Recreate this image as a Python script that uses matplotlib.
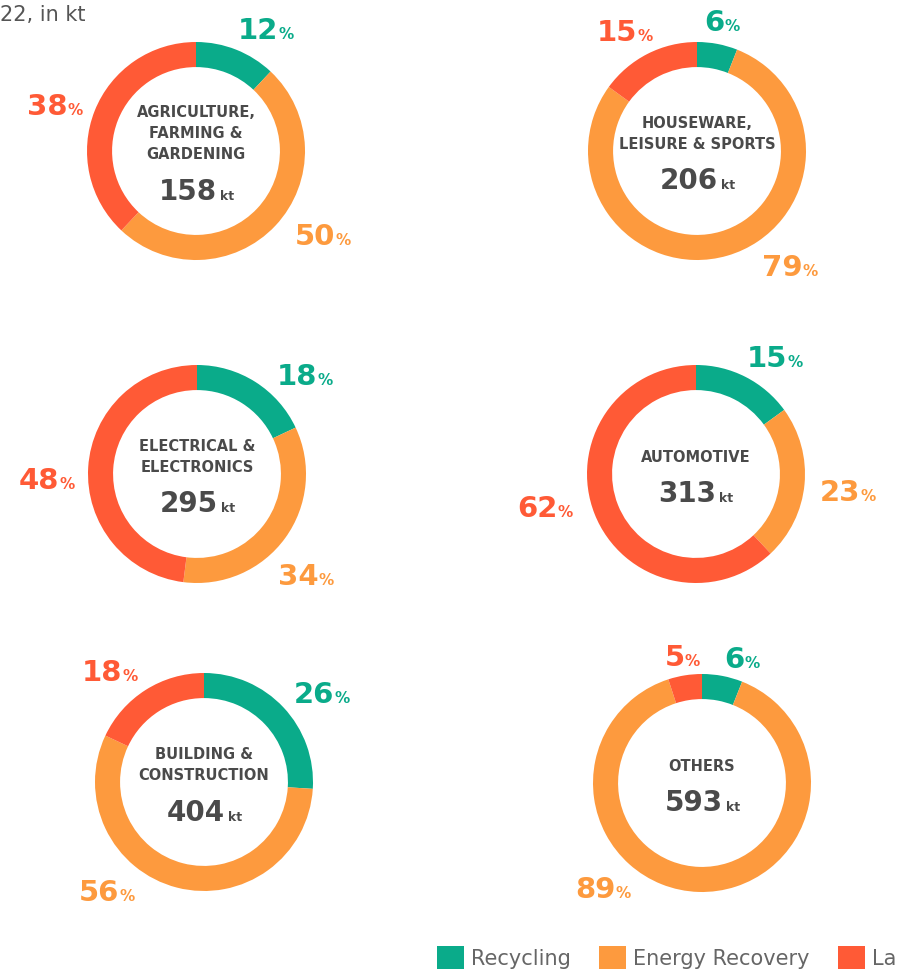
import matplotlib
matplotlib.use("Agg")
import matplotlib.pyplot as plt
from matplotlib.patches import Patch

plt.rcParams['font.family'] = ['DejaVu Sans']

# end-of-life split per sector (%), recycling / energy recovery / landfill
sectors = [["AGRICULTURE,", "FARMING &", "GARDENING"],
           ["HOUSEWARE,", "LEISURE & SPORTS"],
           ["ELECTRICAL &", "ELECTRONICS"],
           ["AUTOMOTIVE"],
           ["BUILDING &", "CONSTRUCTION"],
           ["OTHERS"]]
totals_kt = [158, 206, 295, 313, 404, 593]
recycling = [12, 6, 18, 15, 26, 6]
energy_recovery = [50, 79, 34, 23, 56, 89]
landfill = [38, 15, 48, 62, 18, 5]
series_names = ["Recycling", "Energy Recovery", "Landfill"]

colors = ["#0aab8a", "#fd9a3e", "#ff5a36"]
text_dark = "#4a4a4a"

W, H = 897, 971
R_PX = 109  # outer radius of each ring in pixels
HALF = 1.7  # axes half-width in radius units

# ring centres (px from top-left)
centers = [(196, 151), (697, 151), (197, 474), (696, 474), (204, 782), (702, 783)]
# percentage label centres relative to ring centre (px, y down), per series
label_offsets = [
    [(70, -123), (127, 83), (-141, -47)],
    [(25, -131), (93, 114), (-72, -121)],
    [(108, -100), (109, 100), (-150, 4)],
    [(79, -118), (152, 16), (-151, 32)],
    [(118, -90), (-97, 108), (-94, -112)],
    [(40, -126), (-99, 104), (-20, -128)],
]

fig = plt.figure(figsize=(W / 100, H / 100), dpi=100)
renderer = fig.canvas.get_renderer()


def two_part(ax, x, y, big, small, color, big_size, small_size, gap_px=0):
    t1 = ax.text(x, y, big, fontsize=big_size, fontweight='bold', color=color,
                 ha='left', va='baseline', clip_on=False)
    t2 = ax.text(x, y, small, fontsize=small_size, fontweight='bold', color=color,
                 ha='left', va='baseline', clip_on=False)
    w1 = t1.get_window_extent(renderer).width
    w2 = t2.get_window_extent(renderer).width
    start = x - (w1 + gap_px + w2) / 2 / R_PX
    t1.set_x(start)
    t2.set_x(start + (w1 + gap_px) / R_PX)


for i, (cx, cy) in enumerate(centers):
    half_px = HALF * R_PX
    ax = fig.add_axes([(cx - half_px) / W, (H - cy - half_px) / H,
                       2 * half_px / W, 2 * half_px / H])
    vals = [recycling[i], energy_recovery[i], landfill[i]]
    ax.pie(vals, colors=colors, startangle=90, counterclock=False, radius=1,
           wedgeprops=dict(width=0.23, edgecolor='none'))
    ax.set_xlim(-HALF, HALF)
    ax.set_ylim(-HALF, HALF)
    ax.axis('off')

    # percentage labels
    for j, v in enumerate(vals):
        dx, dy = label_offsets[i][j]
        two_part(ax, dx / R_PX, -(dy + 11) / R_PX, f"{v}", "%",
                 colors[j], 21, 11, gap_px=0)

    # sector name and total in the middle
    lines = sectors[i]
    n = len(lines)
    top = -(21 * (n - 1) + 34) / 2
    for k, line in enumerate(lines):
        ax.text(0, -(top + 21 * k) / R_PX, line, fontsize=10.5, fontweight='bold',
                color=text_dark, ha='center', va='center')
    num_y = top + 21 * (n - 1) + 34
    two_part(ax, 0, -(num_y + 11) / R_PX, f"{totals_kt[i]}", "kt",
             text_dark, 20, 9, gap_px=3)

fig.text(0, 1 - 15 / H, "22, in kt", fontsize=15, color="#555555",
         ha='left', va='center')

handles = [Patch(facecolor=c, edgecolor='none') for c in colors]
fig.legend(handles, series_names, loc='lower left',
           bbox_to_anchor=(437 / W, 2 / H), ncol=3, frameon=False,
           fontsize=15, labelcolor="#666666", handlelength=1.3,
           handleheight=1.3, handletextpad=0.33, columnspacing=1.35,
           borderpad=0, borderaxespad=0)

fig.savefig("out.png", dpi=100, facecolor='white')
